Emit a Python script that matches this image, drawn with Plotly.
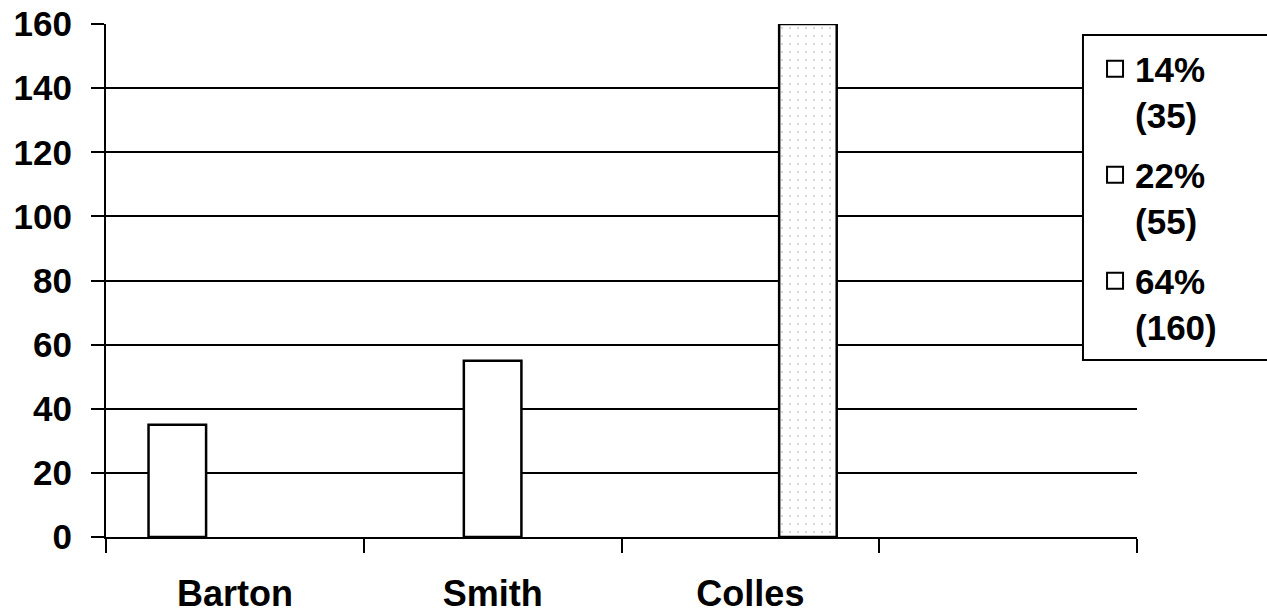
import plotly.graph_objects as go

categories = ["Barton", "Smith", "Colles"]
values = [35, 55, 160]
extra_category = [" "]
y_ticks = [0, 20, 40, 60, 80, 100, 120, 140, 160]

total = sum(values)
legend_labels = [f"{round(v * 100 / total)}%<br>({v})" for v in values]

FONT = "Liberation Sans, Arial, sans-serif"

fig = go.Figure()

for i, (cat, val) in enumerate(zip(categories, values)):
    marker = dict(color="white", line=dict(color="black", width=2.5))
    if i == 2:
        marker["pattern"] = dict(shape=".", fgcolor="#b4b4b4", bgcolor="white",
                                 size=8, solidity=0.08)
    fig.add_trace(go.Bar(x=[cat], y=[val], name=legend_labels[i],
                         offsetgroup=str(i), marker=marker, showlegend=False))

for i, lab in enumerate(legend_labels):
    fig.add_trace(go.Scatter(x=[None], y=[None], mode="markers", name=lab,
                             legendgroup=f"g{i}",
                             marker=dict(symbol="square", size=16, color="white",
                                         line=dict(color="black", width=2))))

fig.add_shape(type="rect", xref="paper", yref="paper",
              x0=0.9476, x1=1.3, y0=0.345, y1=0.9786,
              line=dict(color="black", width=2), fillcolor="white", layer="above")

fig.update_layout(
    width=1267, height=615,
    margin=dict(l=106, r=130, t=24, b=78),
    paper_bgcolor="white", plot_bgcolor="white",
    barmode="group", bargap=0.33, bargroupgap=0,
    font=dict(family=FONT, color="black", size=35, weight="bold"),
    legend=dict(x=0.9593, xanchor="left", y=0.9697, yanchor="top",
                bgcolor="rgba(0,0,0,0)", borderwidth=0,
                font=dict(size=35, family=FONT, weight="bold"),
                valign="top", tracegroupgap=12),
    xaxis=dict(type="category", categoryorder="array",
               categoryarray=categories + extra_category,
               range=[-0.5, 3.5], tickson="boundaries", automargin=False,
               ticks="outside", ticklen=14, tickwidth=2, tickcolor="black",
               showline=True, linecolor="black", linewidth=2,
               showgrid=False, zeroline=False, ticklabeloverflow="allow",
               tickfont=dict(size=36, family=FONT, weight="bold"),
               ticklabelstandoff=24),
    yaxis=dict(range=[0, 160], tickvals=y_ticks, automargin=False,
               ticks="outside", ticklen=13, tickwidth=2, tickcolor="black",
               showline=True, linecolor="black", linewidth=2,
               showgrid=True, gridcolor="black", gridwidth=2,
               zeroline=False, ticklabeloverflow="allow",
               tickfont=dict(size=35, family=FONT, weight="bold"),
               ticklabelstandoff=12),
)

fig.write_html("out.html", config={"displayModeBar": False},
               post_script="document.body.style.margin='0';document.body.style.overflow='hidden';")
